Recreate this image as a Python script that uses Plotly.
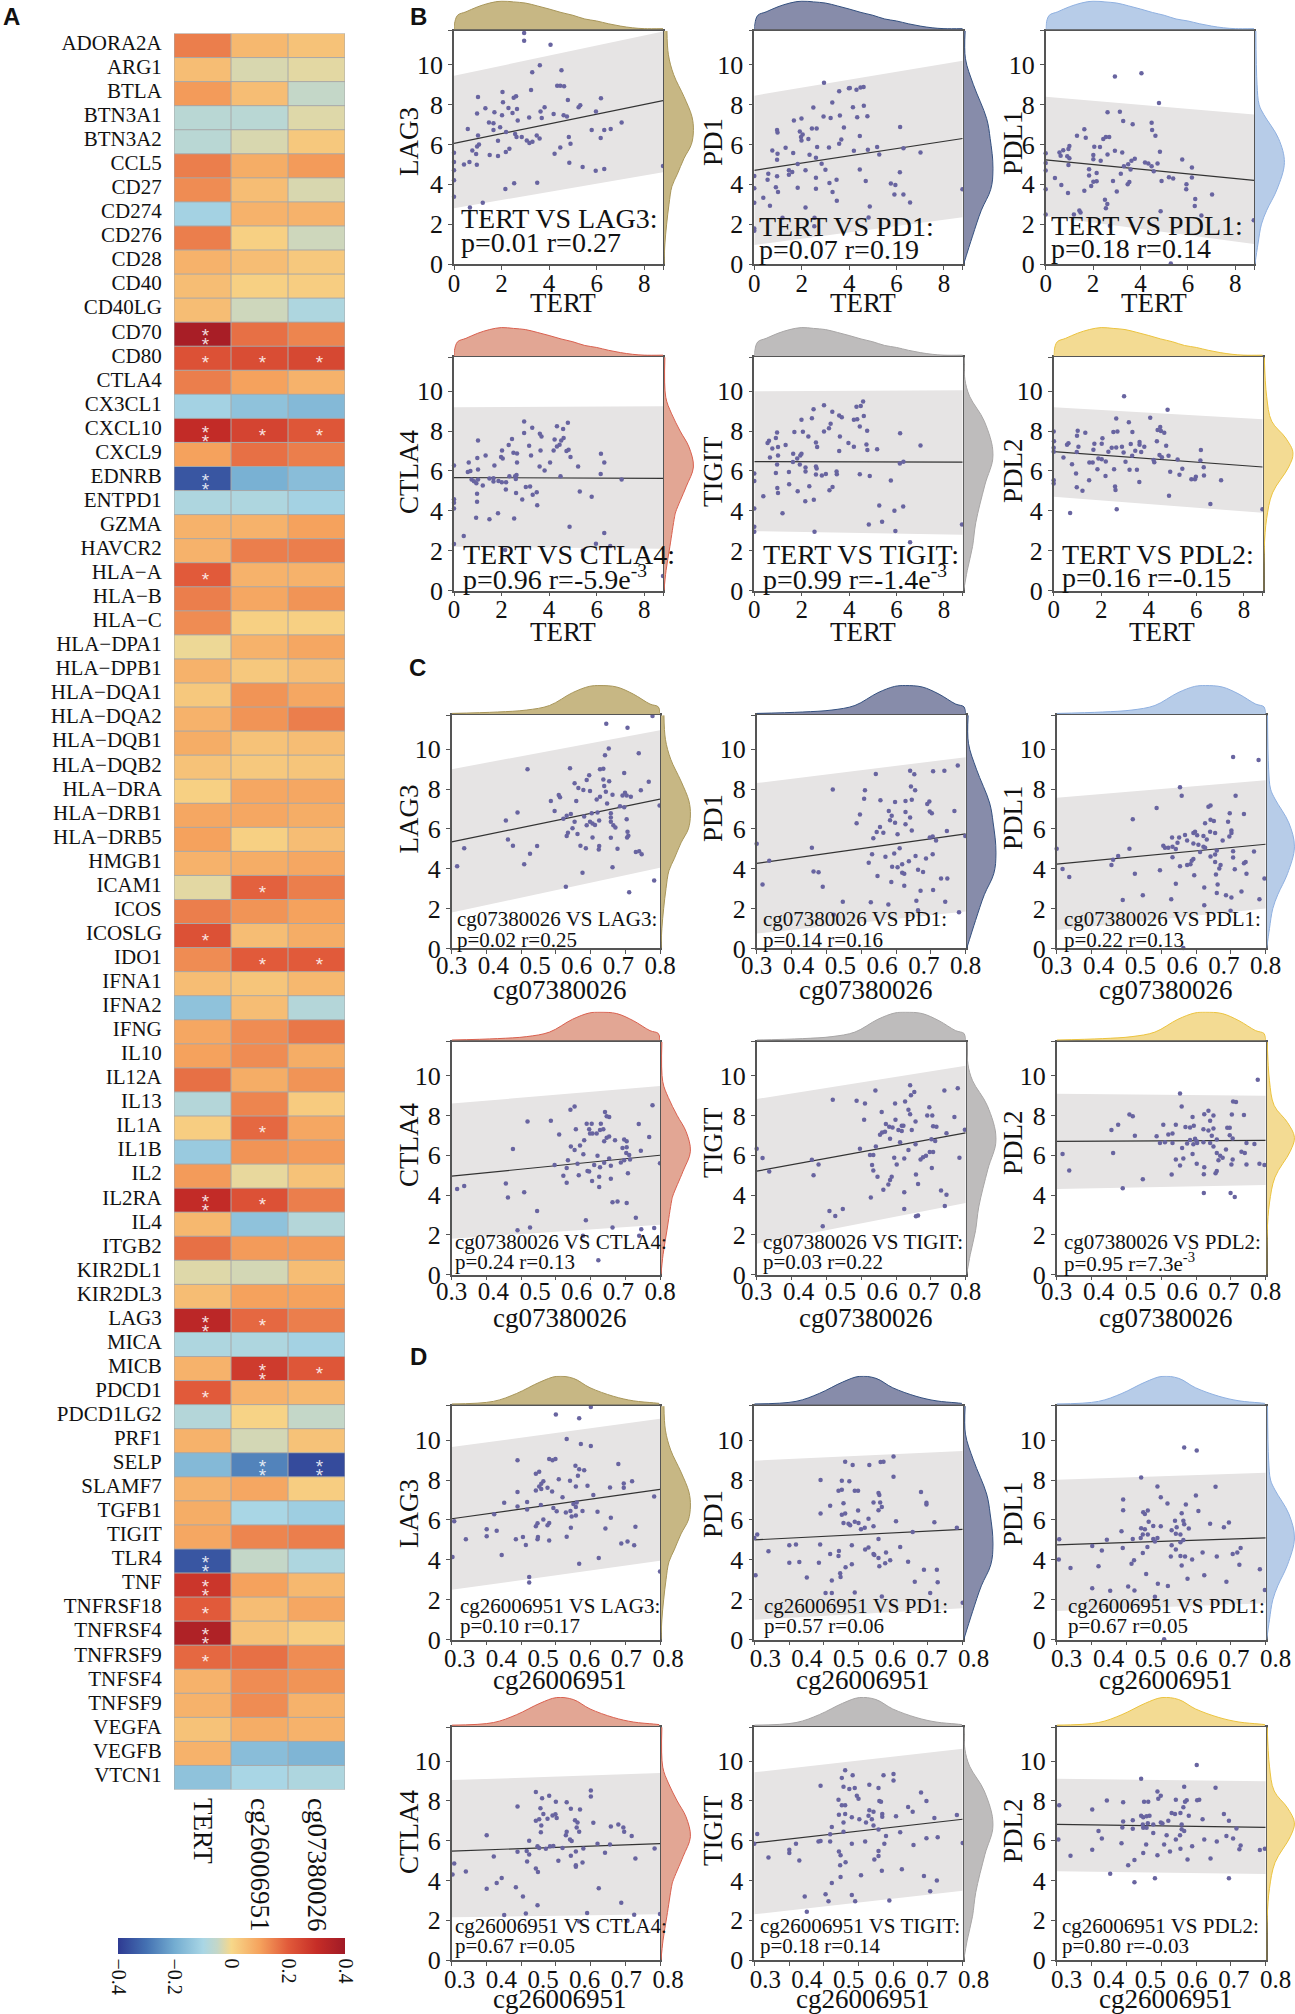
import plotly.graph_objects as go

W, H = 1295, 2014

GENES = ["ADORA2A","ARG1","BTLA","BTN3A1","BTN3A2","CCL5","CD27","CD274","CD276","CD28","CD40","CD40LG","CD70","CD80","CTLA4","CX3CL1","CXCL10","CXCL9","EDNRB","ENTPD1","GZMA","HAVCR2","HLA−A","HLA−B","HLA−C","HLA−DPA1","HLA−DPB1","HLA−DQA1","HLA−DQA2","HLA−DQB1","HLA−DQB2","HLA−DRA","HLA−DRB1","HLA−DRB5","HMGB1","ICAM1","ICOS","ICOSLG","IDO1","IFNA1","IFNA2","IFNG","IL10","IL12A","IL13","IL1A","IL1B","IL2","IL2RA","IL4","ITGB2","KIR2DL1","KIR2DL3","LAG3","MICA","MICB","PDCD1","PDCD1LG2","PRF1","SELP","SLAMF7","TGFB1","TIGIT","TLR4","TNF","TNFRSF18","TNFRSF4","TNFRSF9","TNFSF4","TNFSF9","VEGFA","VEGFB","VTCN1"]
COLUMNS = ["TERT", "cg26006951", "cg07380026"]
TERT_R = [.15,.05,.11,-.07,-.07,.15,.13,-.11,.15,.07,.05,.05,.38,.22,.15,-.11,.31,.1,-.35,-.09,.07,.07,.2,.15,.13,-.01,.07,.03,.07,.08,.04,.015,.09,.1,.07,-.02,.15,.22,.13,.05,-.15,.09,.1,.17,-.08,.02,-.13,.11,.31,.06,.17,-.025,.05,.33,-.09,.07,.2,-.08,.07,-.17,.07,.08,.09,-.35,.28,.2,.36,.18,.07,.07,.04,.07,-.15]
CG26_R = [.06,-.03,.05,-.07,-.03,.08,.05,.07,.015,.05,.015,-.04,.17,.23,.1,-.15,.25,.17,-.19,-.09,.07,.15,.07,.09,.015,.07,.03,.12,.12,.04,.03,.09,.09,.015,.08,.19,.12,.05,.2,.035,.05,.13,.13,.08,.14,.18,.12,-.015,.22,-.15,.11,-.035,.1,.18,-.09,.27,.07,.01,-.035,-.27,.09,-.1,.14,-.05,.1,.05,.04,.17,.13,.13,.08,-.16,-.1]
CG07_R = [.04,-.02,-.05,-.025,.03,.11,-.03,.07,-.04,.03,.02,-.09,.14,.24,.07,-.17,.21,.15,-.16,-.11,.1,.15,.07,.12,.015,.09,.05,.09,.15,.05,.035,.09,.08,.05,.09,.15,.1,.08,.2,.06,-.08,.16,.08,.12,.025,.09,.11,.04,.15,-.08,.11,.05,.1,.15,-.11,.21,.06,-.05,.04,-.37,.02,-.12,.15,-.09,.06,.09,.02,.13,.12,.07,.07,-.18,-.09]
ONE_STAR = [("CD80",0),("CD80",1),("CD80",2),("CXCL10",1),("CXCL10",2),("HLA−A",0),("ICAM1",1),("ICOSLG",0),("IDO1",1),("IDO1",2),("IL1A",1),("IL2RA",1),("LAG3",1),("MICB",2),("PDCD1",0),("TNFRSF18",0),("TNFRSF9",0)]
TWO_STARS = [("CD70",0),("CXCL10",0),("EDNRB",0),("IL2RA",0),("LAG3",0),("MICB",1),("SELP",1),("SELP",2),("TLR4",0),("TNF",0),("TNFRSF4",0)]
COLORSCALE = [[0,"#2E3A92"],[.125,"#4471B2"],[.25,"#74ADD1"],[.375,"#A9D6E5"],[.4375,"#C4D7C8"],[.5,"#F7D88A"],[.625,"#F5A25D"],[.75,"#E15A3A"],[.875,"#C62D27"],[1,"#A01A26"]]

PANEL_GENES = ["LAG3", "PD1", "PDL1", "CTLA4", "TIGIT", "PDL2"]
FILLS = ["#C7B784", "#878CAA", "#B7CCE8", "#E2A694", "#BEBCBC", "#F3DB93"]
LINES = ["#A8965A", "#34507F", "#8FB0E0", "#D9604F", "#A8A6A6", "#EBC33F"]

B_STATS = [("TERT VS LAG3:","p=0.01 r=0.27"),("TERT VS PD1:","p=0.07 r=0.19"),("TERT VS PDL1:","p=0.18 r=0.14"),("TERT VS CTLA4:","p=0.96 r=-5.9e<sup>-3</sup>"),("TERT VS TIGIT:","p=0.99 r=-1.4e<sup>-3</sup>"),("TERT VS PDL2:","p=0.16 r=-0.15")]
C_STATS = [("cg07380026 VS LAG3:","p=0.02 r=0.25"),("cg07380026 VS PD1:","p=0.14 r=0.16"),("cg07380026 VS PDL1:","p=0.22 r=0.13"),("cg07380026 VS CTLA4:","p=0.24 r=0.13"),("cg07380026 VS TIGIT:","p=0.03 r=0.22"),("cg07380026 VS PDL2:","p=0.95 r=7.3e<sup>-3</sup>")]
D_STATS = [("cg26006951 VS LAG3:","p=0.10 r=0.17"),("cg26006951 VS PD1:","p=0.57 r=0.06"),("cg26006951 VS PDL1:","p=0.67 r=0.05"),("cg26006951 VS CTLA4:","p=0.67 r=0.05"),("cg26006951 VS TIGIT:","p=0.18 r=0.14"),("cg26006951 VS PDL2:","p=0.80 r=-0.03")]

# fit line and band, (value at left edge, value at right edge)
B_FIT = [(6.05,8.2),(4.7,6.3),(5.23,4.2),(5.67,5.63),(6.47,6.44),(6.97,6.2)]
B_HI = [(9.45,11.67),(8.45,10.2),(8.4,7.5),(9.2,9.25),(10,10.05),(9.2,8.6)]
B_LO = [(2.8,4.6),(.95,2.35),(2.4,1),(2.2,2.1),(2.98,2.8),(4.7,3.9)]
C_FIT = [(5.35,7.5),(4.27,5.75),(4.23,5.23),(4.95,6),(5.2,7.13),(6.7,6.75)]
C_HI = [(9,10.95),(8.3,9.6),(7.57,8.44),(8.6,9.48),(8.83,10.5),(9.1,9)]
C_LO = [(1.8,4.05),(.75,1.85),(.93,2),(1.8,2.5),(1.55,3.6),(4.3,4.5)]
D_FIT = [(6.06,7.53),(5,5.53),(4.75,5.1),(5.48,5.85),(5.89,7.08),(6.82,6.67)]
D_HI = [(9.65,11.07),(8.97,9.46),(8.02,8.37),(9.05,9.4),(9.44,10.62),(9.12,8.99)]
D_LO = [(2.5,3.96),(1,1.57),(1.44,1.83),(2.15,2.3),(2.3,3.48),(4.47,4.32)]

# marginal densities, scaled to a peak of 1
TOP_TERT = [(0,0),(.02,.2),(.15,.5),(.5,.62),(1,.8),(1.5,.93),(2,1),(2.5,.97),(3,.93),(3.5,.83),(4,.72),(4.5,.6),(5,.5),(5.5,.37),(6,.3),(6.5,.2),(7,.12),(7.5,.06),(8,.03),(8.79,.03)]
TOP_CG07 = [(.3,.02),(.41,.07),(.48,.14),(.535,.3),(.59,.75),(.63,.97),(.656,1),(.696,.95),(.736,.7),(.776,.35),(.796,.25),(.8,.02)]
TOP_CG26 = [(.3,.03),(.4,.12),(.456,.4),(.512,.8),(.552,1),(.592,.93),(.632,.6),(.688,.3),(.736,.14),(.784,.07),(.798,.05)]
RIGHT_LAG3 = [(0,0),(1,.03),(2,.09),(3,.17),(3.9,.27),(4.5,.45),(5.3,.68),(6,.93),(6.7,1),(7.4,.95),(8.4,.68),(9.5,.33),(10.5,.15),(11.7,.1)]
RIGHT_PD1 = [(0,0),(1.4,.3),(2.7,.6),(3.75,.92),(4.8,1),(6.3,.9),(7.3,.78),(9,.33),(10.3,.06),(11.7,.05)]
RIGHT_PDL1 = [(0,0),(1,.1),(2,.22),(2.7,.4),(3.75,.75),(5.1,1),(6.3,.8),(7.5,.3),(8,.14),(9,.07),(11.7,.03)]
RIGHT_CTLA4 = [(0,0),(1,.07),(2.2,.2),(3.7,.36),(3.95,.4),(5.2,.75),(6.2,1),(7.2,.85),(8,.55),(8.9,.25),(9.7,.06),(11.7,.03)]
RIGHT_TIGIT = [(0,0),(1,.12),(2.2,.3),(3.4,.41),(5.3,.72),(6.8,1),(8.5,.7),(9.75,.2),(10.6,.04),(11.7,.02)]
RIGHT_PDL2 = [(0,0),(2.2,.02),(3.6,.1),(4.9,.3),(6.2,.85),(6.9,1),(7.65,.75),(8.5,.27),(9.75,.1),(11.7,.02)]

B_LAG3 = [(2.95,11.6),(2.95,11.2),(4.06,11),(3.61,9.97),(3.29,9.62),(4.52,9.73),(2.04,8.63),(4.34,8.95),(4.47,8.95),(4.63,8.92),(3.24,8.73),(1.01,8.38),(2.51,8.35),(2.61,8.42),(2.06,8.12),(4.79,8.23),(6.18,8.32),(3.81,7.87),(1.32,7.82),(2.29,7.83),(2.65,7.78),(1.7,7.62),(2.46,7.58),(.97,7.55),(2.02,7.47),(4.19,7.53),(3.64,7.65),(5.24,7.87),(5.31,7.97),(5.97,7.65),(4.61,7.47),(4.75,7.4),(3.16,7.35),(3.69,7.33),(2.68,7.2),(1.47,7.1),(1.66,7.07),(1.94,6.87),(1.66,6.73),(2.19,6.63),(.58,6.77),(1.01,6.45),(2.57,6.53),(2.63,6.37),(2.85,6.37),(3.06,6.2),(3.17,6.07),(3.3,6.13),(3.48,6.45),(3.6,6.3),(4.83,6.37),(5.79,6.73),(6.32,6.73),(6.59,6.78),(7.05,7.1),(6.17,6.33),(1.85,6.18),(1.05,6),(.97,5.9),(.77,5.7),(.93,5.52),(2.33,5.78),(2.18,5.62),(1.5,5.47),(1.85,5.42),(4.47,5.85),(4.9,6.03),(4.23,5.53),(0,5.58),(0,5.12),(.65,5.12),(.42,5),(.96,4.98),(4.85,5.08),(5.41,4.87),(5.96,4.68),(6.32,4.77),(0,4.7),(0,4.2),(0,3.37),(2.16,3.77),(2.53,4.05),(3.5,4.08),(1.21,3.08),(.67,2.83),(8.79,4.92)]
B_PD1 = [(2.94,9.1),(3.58,8.67),(3.99,8.82),(3.29,8.1),(2.49,7.85),(2.92,7.4),(3.22,7.33),(3.61,7.45),(1.67,7.2),(1.99,7.3),(2.43,6.8),(2.63,6.8),(3.78,6.85),(.96,6.73),(.98,6.6),(1.92,6.65),(2.04,6.5),(1.97,6.37),(1.99,6.2),(2.28,6.27),(3.67,6.25),(3.58,6.03),(1.32,5.83),(2.65,5.87),(3.15,5.85),(.76,5.7),(.98,5.53),(1.64,5.57),(2.33,5.48),(2.6,5.33),(.96,5.23),(1.83,5.02),(2.84,5.03),(3,4.73),(2.16,4.7),(1.46,4.7),(1.6,4.62),(1.46,4.48),(.59,4.53),(0,4.42),(.96,4.4),(2.6,4.33),(3.47,4.23),(.56,4.23),(3.17,4.07),(0,3.8),(.91,3.85),(1,3.62),(1.83,3.83),(2.6,3.78),(3.3,3.62),(3.48,3.18),(.38,3.32),(0,3.08),(.66,2.93),(2.16,2.83),(2.54,2.32),(1.19,2.32),(2.53,1.9),(0,1.78),(0,1.67),(4.03,8.84),(4.31,8.74),(4.48,8.86),(4.61,8.88),(4.16,7.87),(4.34,7.37),(4.62,7.94),(4.77,7.41),(4.45,6.42),(6.15,6.88),(4.2,5.68),(4.79,5.73),(5.18,5.87),(5.27,5.49),(6.29,5.81),(7.01,5.6),(4.45,4.74),(6.14,4.61),(4.7,4.17),(5.76,4.04),(5.95,3.96),(5.91,3.49),(6.29,3.49),(6.57,3.09),(4.87,2.88),(4.82,2.34),(8.78,3.75)]
B_PDL1 = [(2.92,9.41),(4.04,9.58),(4.78,8.08),(2.61,7.62),(3.13,7.64),(3.27,7.18),(3.67,7.01),(4.47,7.09),(4.49,6.72),(4.63,6.44),(1.63,6.76),(1.32,6.44),(1.69,6.34),(2.43,6.27),(2.54,6.38),(2.68,6.38),(2.05,5.89),(2.29,5.87),(1,5.92),(.96,5.77),(.74,5.71),(.58,5.6),(.63,5.43),(0,5.56),(.91,5.41),(1,5.31),(.96,4.97),(2.01,5.47),(2.01,5.26),(2.32,5.18),(2.61,5.49),(2.92,5.68),(3.23,5.6),(3.62,5.18),(3.76,5.28),(3.3,4.91),(3.48,5.01),(3.58,4.74),(4.19,5.09),(4.33,5.05),(4.47,4.91),(4.56,4.65),(4.72,5.05),(4.82,5.64),(5.76,5.24),(6.17,4.84),(4.89,4.17),(5.2,4.36),(5.38,4.29),(6.17,4.34),(5.94,4),(5.93,3.75),(3.17,4.53),(1.83,4.76),(1.83,4.44),(2.15,4.57),(2.15,4.15),(2.01,4.13),(1.92,3.92),(.39,4.32),(.66,3.96),(0,3.75),(.94,3.56),(1.63,3.68),(2.84,4.17),(3,3.64),(3.53,4.11),(3.46,4),(2.5,3.22),(2.6,3.01),(2.54,2.8),(6.31,3.26),(6.29,2.91),(7.02,3.49),(1.42,2.69),(1.47,2.59),(1.19,2.48),(0,2.48),(4.85,2.65),(6.57,2.44),(2.71,1.92),(8.78,2.19),(5.28,.02),(0,5.07),(0,4.69)]
B_CTLA4 = [(2.95,8.48),(3.29,8.17),(4.33,8.25),(4.79,8.42),(4.59,8.1),(2.95,7.9),(3.61,7.87),(3.68,7.73),(1.01,7.53),(2.44,7.6),(4.23,7.58),(4.61,7.65),(4.51,7.53),(2.3,7.3),(3.16,7.27),(4.44,7.32),(4.33,7.23),(2.02,7.03),(3.64,7.03),(4.19,7.03),(4.82,7.07),(4.73,7),(2.5,6.92),(2.65,6.88),(1.33,6.77),(3.24,6.78),(6.18,6.87),(.98,6.65),(1.98,6.7),(2.05,6.62),(4.9,6.7),(.62,6.43),(2.65,6.42),(4.04,6.43),(6.32,6.42),(1.7,6.28),(0,6.28),(3.6,6.23),(5.22,6.22),(1.01,6.07),(3.81,6.02),(.58,5.95),(.69,6),(6.17,5.85),(4.48,5.73),(2.33,5.73),(2.63,5.8),(2.57,5.73),(2.6,5.6),(7.05,5.57),(.74,5.57),(1.01,5.57),(1.49,5.62),(1.66,5.63),(1.66,5.47),(1.87,5.5),(2.01,5.43),(2.19,5.43),(.84,5.48),(.94,5.38),(1.21,5.27),(2.18,5.07),(3.02,5.2),(3.2,5.22),(2.61,4.9),(3.48,4.93),(3.31,4.8),(5.29,4.97),(5.79,4.7),(.97,4.85),(.97,4.45),(2.87,4.57),(3.5,4.28),(0,4.58),(0,4.4),(0,4.12),(.93,3.65),(1.49,3.58),(1.85,3.88),(2.53,3.62),(4.86,3.2),(6.32,2.88),(.41,2.73),(5.97,2.35),(6.57,2.23),(0,2.33),(5.41,2),(2.15,2.03),(8.79,.73)]
B_TIGIT = [(2.94,9.3),(2.5,9.1),(3.29,8.97),(3.58,8.78),(3.69,8.7),(1.99,8.57),(2.43,8.65),(3.22,8.37),(3.15,8.15),(2.94,7.98),(.96,7.93),(1.69,7.95),(2.05,7.97),(2.28,7.73),(3.61,7.73),(.91,7.65),(.62,7.52),(.56,7.4),(2.6,7.43),(1.32,7.3),(1,7.2),(.76,7.13),(2.65,7.2),(3.58,7),(3.97,7.4),(1.99,6.87),(1.64,6.87),(1.94,6.78),(.66,6.68),(1,6.78),(1.81,6.62),(1.63,6.45),(.96,6.33),(1.92,6.33),(2.6,6.23),(2.16,6.17),(2.16,5.97),(2.63,6.12),(3.47,5.97),(1.46,5.95),(.91,5.9),(0,5.87),(2.6,5.82),(3.02,5.85),(2.85,5.77),(3.48,5.83),(0,5.5),(1.47,5.33),(.97,5.15),(2.32,5.23),(3.3,5.2),(3.17,5.03),(1.83,4.98),(1,4.9),(.38,4.73),(2.15,4.48),(2.51,4.55),(0,4.12),(1.19,3.88),(0,3.2),(0,2.95),(2.54,2.95),(4.59,9.49),(4.31,9.22),(4.49,9.26),(4.62,8.76),(4.2,8.57),(4.34,8.59),(4.45,8.23),(4.76,8.02),(7.01,7.28),(6.15,7.89),(4.73,7.33),(4.77,7.05),(4.2,7.22),(5.18,7.09),(6.29,6.46),(6.14,6.38),(4.45,5.83),(4.87,5.75),(5.76,5.52),(5.27,4.27),(6.28,4.21),(5.91,4),(5.39,3.45),(4.83,3.31),(5.95,2.99),(6.57,2.42),(8.76,3.31)]
B_PDL2 = [(2.96,9.75),(4.79,9.07),(4.06,8.67),(2.63,8.63),(3.16,8.44),(0,7.98),(1.01,8.02),(.98,7.77),(1.33,7.92),(2.51,7.96),(2.68,7.98),(3.31,7.96),(4.37,8.06),(4.48,8.21),(4.51,8),(4.65,7.92),(2.05,7.64),(.01,7.49),(4.34,7.49),(.62,7.39),(.56,7.31),(1.71,7.37),(2.02,7.37),(1.67,7.07),(3.24,7.35),(3.61,7.45),(3.61,7.31),(0,7.16),(0,6.97),(1.04,7.22),(.97,6.95),(2.3,6.97),(2.44,7.16),(2.63,7.18),(2.87,7.22),(3.43,7.01),(3.68,6.95),(3.81,7.22),(4.73,7.26),(2.94,6.93),(.41,6.67),(3.3,6.76),(1.88,6.63),(2.02,6.59),(2.19,6.48),(1.5,6.42),(1.64,6.42),(4.45,6.8),(4.55,6.69),(4.83,6.76),(4.2,6.55),(4.23,6.44),(5.21,6.57),(6.17,6.53),(6.19,7.05),(3.02,6.46),(.77,6.34),(6.31,6.19),(1.84,6.08),(2.54,6.08),(3.19,6.06),(3.5,6.06),(5.41,6.11),(.94,5.87),(2.18,5.75),(4.9,5.96),(5.29,5.81),(6.32,5.77),(0,5.54),(0,5.37),(1.49,5.54),(3.6,5.45),(5.79,5.58),(5.94,5.58),(5.98,5.71),(7.04,5.54),(.97,5.18),(2.58,5.22),(2.6,5.05),(1.21,5.01),(4.85,4.76),(.69,3.89),(2.65,4.08),(6.59,4.34),(8.78,4.08)]

C_LAG3 = [(.782,11.67),(.671,11.28),(.722,11.08),(.677,10.04),(.749,9.8),(.668,9.7),(.584,9.05),(.482,9),(.656,9),(.664,9.02),(.714,8.81),(.63,8.7),(.624,8.46),(.664,8.48),(.678,8.39),(.773,8.37),(.595,8.29),(.666,8.16),(.604,8.05),(.616,7.96),(.632,7.9),(.67,7.87),(.754,7.94),(.557,7.7),(.56,7.59),(.686,7.72),(.71,7.68),(.716,7.81),(.72,7.68),(.73,7.61),(.656,7.61),(.648,7.48),(.538,7.4),(.599,7.4),(.673,7.27),(.714,7.09),(.704,7.14),(.547,6.9),(.458,6.83),(.636,6.79),(.65,6.83),(.682,6.79),(.586,6.75),(.576,6.66),(.568,6.51),(.618,6.62),(.682,6.57),(.654,6.42),(.43,6.42),(.72,6.49),(.595,6.36),(.682,6.36),(.624,6.18),(.632,6.36),(.638,6.27),(.688,6.18),(.644,6.2),(.59,6.03),(.693,6.07),(.298,5.92),(.722,5.86),(.579,5.81),(.576,5.64),(.602,5.75),(.638,5.57),(.682,5.55),(.721,5.57),(.724,5.66),(.435,5.47),(.447,5.16),(.505,5.14),(.609,5.16),(.622,5.03),(.654,5.14),(.653,4.97),(.698,5.01),(.33,5.03),(.488,4.75),(.742,4.84),(.75,4.88),(.756,4.73),(.474,4.23),(.313,4.12),(.686,4.08),(.614,3.8),(.574,3.1),(.786,3.41),(.726,2.82),(.799,7.18)]
C_PD1 = [(.482,7.98),(.3,5.25),(.432,5.05),(.33,4.4),(.436,3.86),(.448,3.82),(.458,3.1),(.314,3.21),(.506,2.34),(.484,1.69),(.781,9.18),(.722,8.89),(.749,8.92),(.667,8.92),(.677,8.74),(.585,8.76),(.669,8.13),(.679,7.94),(.559,7.94),(.557,7.51),(.596,7.44),(.631,7.35),(.656,7.4),(.671,7.46),(.713,7.38),(.708,7.25),(.616,6.9),(.656,6.85),(.714,6.88),(.719,6.79),(.773,6.9),(.547,6.72),(.623,6.66),(.667,6.57),(.619,6.44),(.631,6.31),(.656,6.23),(.539,6.29),(.595,6.1),(.587,5.84),(.603,5.81),(.671,5.92),(.755,5.9),(.637,5.73),(.714,5.57),(.721,5.62),(.579,5.53),(.729,5.42),(.799,5.64),(.642,5.03),(.629,4.77),(.721,4.73),(.68,4.64),(.576,4.73),(.608,4.6),(.705,4.51),(.568,4.3),(.664,4.38),(.624,4.1),(.637,4.08),(.648,4.23),(.648,3.8),(.686,3.95),(.698,3.84),(.653,3.75),(.589,3.64),(.622,3.34),(.741,3.51),(.756,3.51),(.653,3.15),(.692,2.89),(.722,2.93),(.573,2.32),(.615,2.21),(.682,2.39),(.751,2.34),(.784,1.82),(.686,1.91)]
C_PDL1 = [(.722,9.61),(.783,9.46),(.595,8.09),(.599,7.66),(.539,7.05),(.728,7.66),(.482,6.49),(.663,7.11),(.668,7.18),(.714,6.79),(.748,6.75),(.668,6.46),(.676,6.4),(.655,6.29),(.71,6.36),(.718,5.92),(.718,5.79),(.607,5.7),(.627,5.79),(.631,5.86),(.636,5.68),(.576,5.57),(.593,5.57),(.651,5.64),(.667,5.86),(.679,5.79),(.713,5.62),(.697,5.42),(.612,5.42),(.659,5.47),(.589,5.31),(.555,5.16),(.559,5.05),(.567,5.05),(.577,5.1),(.585,4.99),(.627,5.27),(.639,5.21),(.651,5.1),(.655,5.05),(.474,5.01),(.447,4.64),(.643,4.84),(.683,4.92),(.722,4.88),(.772,4.86),(.679,4.71),(.668,4.62),(.577,4.58),(.722,4.56),(.627,4.49),(.435,4.45),(.431,4.19),(.623,4.4),(.62,4.23),(.612,4.19),(.595,4.12),(.679,4.34),(.752,4.34),(.748,4.27),(.692,4.19),(.689,4.01),(.726,3.97),(.3,5.01),(.314,3.99),(.33,3.58),(.487,3.75),(.547,3.93),(.629,3.67),(.681,3.71),(.754,3.75),(.797,3.51),(.585,3.25),(.685,3.21),(.653,3.06),(.742,2.86),(.683,2.78),(.705,2.67),(.718,2.56),(.506,2.67),(.458,2.43),(.574,2.47),(.785,2.47),(.653,2.17),(.716,1.89),(.603,.02)]
C_CTLA4 = [(.782,8.52),(.595,8.46),(.585,8.29),(.668,8.18),(.672,7.96),(.678,7.92),(.538,7.74),(.482,7.7),(.624,7.59),(.636,7.59),(.658,7.59),(.749,7.57),(.598,7.31),(.63,7.31),(.656,7.27),(.664,7.31),(.558,7.05),(.632,7.09),(.638,7.09),(.648,7.09),(.678,6.94),(.672,6.88),(.666,6.7),(.774,6.92),(.618,6.75),(.692,6.75),(.714,6.79),(.72,6.7),(.586,6.44),(.608,6.49),(.447,6.31),(.71,6.36),(.72,6.4),(.595,6.27),(.754,6.23),(.616,6.05),(.65,5.97),(.719,6.12),(.726,6.01),(.678,5.84),(.706,5.64),(.714,5.75),(.728,5.79),(.579,5.75),(.547,5.51),(.602,5.57),(.642,5.51),(.666,5.62),(.682,5.47),(.576,5.36),(.656,5.4),(.8,5.6),(.626,5.21),(.63,5.18),(.568,4.97),(.605,4.99),(.654,4.92),(.682,4.82),(.723,5.1),(.298,4.86),(.637,4.71),(.576,4.62),(.43,4.58),(.654,4.4),(.313,4.3),(.33,4.45),(.474,4.14),(.435,3.88),(.686,3.64),(.698,3.67),(.72,3.6),(.505,3.19),(.742,2.86),(.622,2.73),(.488,2.36),(.458,2.23),(.686,2.36),(.755,2.28),(.786,2.34),(.615,1.95),(.75,1.95),(.652,.72)]
C_TIGIT = [(.482,8.79),(.3,6.33),(.314,5.86),(.33,5.18),(.432,5.77),(.448,5.53),(.436,4.99),(.474,3.19),(.488,2.95),(.506,3.3),(.458,2.43),(.667,9.52),(.584,9.26),(.749,9.26),(.781,9.37),(.539,8.74),(.559,8.61),(.677,9.18),(.669,9.02),(.631,8.61),(.655,8.7),(.663,8.29),(.713,8.42),(.557,7.79),(.599,8.18),(.667,8.07),(.708,8),(.72,8),(.632,7.79),(.68,7.7),(.773,7.92),(.609,7.57),(.617,7.44),(.647,7.48),(.651,7.48),(.671,7.27),(.722,7.46),(.73,7.44),(.639,7.27),(.625,7.4),(.6,7.14),(.607,7.18),(.595,7.03),(.798,7.29),(.647,7.22),(.754,7.11),(.643,6.66),(.619,6.83),(.585,6.44),(.68,6.55),(.663,6.27),(.547,6.33),(.718,6.81),(.727,6.72),(.714,6.16),(.722,6.16),(.571,6.01),(.579,6.01),(.705,5.97),(.698,5.9),(.692,5.79),(.629,5.88),(.653,5.84),(.785,5.88),(.576,5.51),(.635,5.53),(.579,5.23),(.719,5.36),(.681,5.03),(.589,4.92),(.623,4.92),(.619,4.75),(.615,4.53),(.603,4.27),(.686,4.56),(.653,4.14),(.741,4.23),(.754,4.01),(.573,3.88),(.653,3.3),(.75,3.45),(.686,2.97),(.681,2.93)]
C_PDL2 = [(.781,9.8),(.595,9.11),(.722,8.7),(.729,8.68),(.599,8.46),(.663,8.24),(.474,8.05),(.482,7.96),(.653,8.07),(.675,8),(.719,8.05),(.748,8.03),(.625,7.92),(.667,7.74),(.447,7.53),(.555,7.53),(.298,7.81),(.585,7.53),(.608,7.42),(.619,7.4),(.628,7.48),(.431,7.27),(.577,7.09),(.651,7.31),(.663,7.25),(.675,7.35),(.708,7.38),(.714,7.38),(.487,6.98),(.539,6.96),(.567,7.05),(.671,6.98),(.714,7.01),(.721,6.85),(.619,6.77),(.631,6.83),(.635,6.7),(.651,6.66),(.683,6.79),(.547,6.62),(.559,6.66),(.577,6.62),(.612,6.59),(.627,6.55),(.636,6.62),(.667,6.62),(.754,6.62),(.773,6.57),(.6,6.36),(.675,6.44),(.625,6.07),(.683,6.12),(.691,5.97),(.705,6.29),(.314,6.07),(.435,6.12),(.742,6.18),(.75,6.12),(.585,5.79),(.603,5.84),(.697,5.88),(.721,5.79),(.595,5.49),(.635,5.57),(.687,5.75),(.653,5.4),(.718,5.53),(.754,5.53),(.785,5.57),(.797,5.51),(.33,5.23),(.683,5.21),(.68,5.1),(.575,5.03),(.652,5.05),(.506,4.79),(.458,4.34),(.652,4.1),(.716,4.1),(.726,3.9)]

D_LAG3 = [(.634,11.66),(.55,11.29),(.606,11.1),(.576,10.06),(.61,9.81),(.634,9.7),(.534,9.05),(.542,8.99),(.549,9.05),(.458,8.99),(.7,8.8),(.597,8.71),(.502,8.32),(.51,8.41),(.606,8.54),(.618,8.49),(.603,8.22),(.557,8.04),(.584,7.96),(.52,7.94),(.515,7.81),(.733,7.94),(.713,7.83),(.51,7.68),(.515,7.55),(.626,7.72),(.598,7.68),(.502,7.48),(.53,7.61),(.68,7.63),(.713,7.61),(.541,7.42),(.458,7.4),(.64,7.25),(.566,7.14),(.786,7.18),(.426,6.86),(.481,6.9),(.6,6.88),(.592,6.8),(.514,6.75),(.458,6.67),(.544,6.6),(.598,6.65),(.481,6.52),(.552,6.43),(.574,6.37),(.585,6.45),(.614,6.45),(.65,6.41),(.298,6.45),(.402,6.28),(.588,6.17),(.598,6.22),(.682,6.11),(.52,6.02),(.306,5.94),(.506,5.83),(.534,5.85),(.502,5.68),(.53,5.74),(.384,5.53),(.408,5.46),(.586,5.61),(.669,5.57),(.741,5.66),(.384,5.18),(.576,5.16),(.334,5.03),(.454,5.03),(.471,5.14),(.507,5.14),(.506,5.03),(.534,4.97),(.478,4.75),(.707,4.82),(.722,4.92),(.738,4.73),(.42,4.24),(.302,4.15),(.653,4.09),(.606,3.81),(.486,3.14),(.486,2.86),(.8,3.42)]
D_PD1 = [(.518,8.92),(.459,8),(.51,7.96),(.528,7.94),(.502,7.46),(.51,7.51),(.482,6.71),(.514,6.84),(.459,6.32),(.51,6.26),(.518,6.32),(.514,5.85),(.526,5.81),(.3,5.1),(.307,5.27),(.384,4.73),(.4,4.77),(.458,4.77),(.503,4.45),(.482,4.3),(.502,4.19),(.334,4.43),(.384,3.85),(.408,3.89),(.455,3.85),(.303,3.23),(.426,3.12),(.519,3.63),(.506,3.33),(.507,3.14),(.486,2.97),(.471,2.34),(.486,2.34),(.634,9.18),(.576,8.75),(.603,8.9),(.61,8.92),(.634,8.17),(.536,8.75),(.7,7.4),(.541,7.46),(.549,7.46),(.598,7.35),(.6,7.25),(.713,6.86),(.713,6.77),(.586,6.88),(.602,6.88),(.606,6.65),(.598,6.49),(.549,6.47),(.574,6.06),(.64,5.94),(.732,5.89),(.541,5.91),(.53,5.74),(.55,5.85),(.556,5.53),(.565,5.61),(.586,5.68),(.786,5.61),(.68,5.4),(.598,5.05),(.534,4.73),(.65,4.65),(.566,4.52),(.574,4.62),(.586,4.3),(.616,4.37),(.588,4.24),(.598,4.09),(.626,3.98),(.614,3.83),(.669,3.91),(.6,3.68),(.534,3.78),(.707,3.51),(.738,3.51),(.685,2.9),(.74,2.88),(.722,2.34),(.541,2.37),(.606,2.17),(.8,1.85)]
D_PDL1 = [(.605,9.63),(.635,9.48),(.502,8.13),(.541,7.68),(.549,7.14),(.68,7.66),(.459,7.03),(.565,6.82),(.633,7.23),(.609,6.77),(.459,6.49),(.639,6.45),(.599,6.34),(.507,6.39),(.518,6.47),(.511,6.3),(.583,5.96),(.52,5.91),(.603,5.96),(.605,5.78),(.667,5.81),(.712,5.87),(.531,5.7),(.549,5.68),(.7,5.63),(.587,5.63),(.616,5.57),(.502,5.59),(.511,5.53),(.455,5.44),(.575,5.48),(.585,5.31),(.596,5.27),(.506,5.27),(.501,5.1),(.518,5.27),(.541,5.1),(.531,5.05),(.306,5.03),(.42,5.01),(.482,5.05),(.535,4.92),(.603,4.99),(.596,4.88),(.385,4.69),(.458,4.6),(.517,4.65),(.575,4.73),(.585,4.52),(.74,4.6),(.408,4.47),(.506,4.34),(.649,4.37),(.721,4.3),(.732,4.37),(.298,4.11),(.305,4.02),(.573,4.17),(.596,4.19),(.607,4.17),(.683,4.17),(.485,3.98),(.479,3.81),(.624,4.02),(.599,3.72),(.737,3.76),(.333,3.59),(.4,3.68),(.786,3.53),(.514,3.29),(.653,3.23),(.613,3.05),(.706,2.9),(.542,2.8),(.566,2.69),(.385,2.58),(.471,2.67),(.428,2.45),(.486,2.47),(.535,2.15),(.798,2.49),(.557,.02)]
D_CTLA4 = [(.634,8.52),(.634,8.22),(.502,8.45),(.534,8.26),(.517,8.13),(.55,7.96),(.576,7.94),(.458,7.72),(.513,7.63),(.586,7.61),(.608,7.57),(.52,7.35),(.542,7.27),(.549,7.33),(.552,7.14),(.53,7.1),(.51,7.08),(.502,7.01),(.596,7.03),(.64,6.9),(.602,6.92),(.7,6.82),(.682,6.71),(.712,6.67),(.515,6.77),(.6,6.67),(.714,6.45),(.514,6.43),(.576,6.45),(.606,6.45),(.574,6.28),(.732,6.24),(.384,6.28),(.584,6.06),(.588,5.98),(.486,6),(.65,5.85),(.68,5.81),(.506,5.72),(.536,5.72),(.544,5.74),(.566,5.63),(.616,5.61),(.787,5.61),(.48,5.48),(.458,5.44),(.51,5.63),(.526,5.59),(.598,5.46),(.668,5.4),(.486,5.31),(.586,5.25),(.401,5.2),(.741,5.1),(.481,4.95),(.556,4.99),(.614,4.9),(.598,4.77),(.598,4.69),(.502,4.6),(.507,4.43),(.298,4.58),(.306,4.86),(.302,4.3),(.334,4.45),(.42,4.13),(.408,3.87),(.384,3.59),(.454,3.66),(.653,3.61),(.471,3.2),(.506,2.75),(.707,2.88),(.426,2.26),(.478,2.34),(.625,2.37),(.738,2.28),(.8,2.32),(.606,1.94),(.722,1.98)]
D_TIGIT = [(.518,9.55),(.51,9.16),(.514,8.71),(.528,8.6),(.459,8.77),(.502,8.06),(.51,7.78),(.518,7.78),(.503,7.31),(.518,7.35),(.514,6.92),(.486,6.69),(.514,6.45),(.482,6.32),(.307,6.34),(.454,5.96),(.459,5.98),(.3,5.85),(.4,5.85),(.482,5.96),(.384,5.55),(.384,5.38),(.334,5.16),(.408,5.01),(.503,5.46),(.507,5.27),(.519,4.92),(.506,4.77),(.507,4.17),(.486,3.87),(.471,3.31),(.478,2.95),(.421,3.2),(.426,2.43),(.634,9.35),(.634,9.03),(.61,9.29),(.576,8.82),(.536,9.29),(.598,8.65),(.541,8.65),(.546,8.26),(.55,8.11),(.7,8.43),(.6,8),(.604,7.96),(.713,8),(.669,7.7),(.68,7.46),(.576,7.53),(.586,7.46),(.786,7.29),(.607,7.35),(.607,7.2),(.64,7.23),(.574,7.25),(.732,7.14),(.552,7.08),(.534,7.18),(.582,7.08),(.568,6.92),(.586,6.77),(.598,6.56),(.65,6.43),(.616,6.24),(.74,6.17),(.713,6.13),(.566,5.96),(.534,5.85),(.612,5.85),(.682,5.78),(.598,5.48),(.8,5.89),(.598,5.23),(.588,5.05),(.654,4.56),(.606,4.49),(.556,4.26),(.707,4.22),(.738,4),(.722,3.46),(.624,2.99),(.542,2.95),(.534,3.27)]
D_PDL2 = [(.635,9.81),(.502,9.12),(.68,8.67),(.605,8.71),(.541,8.47),(.549,8.26),(.42,8.02),(.459,7.94),(.509,7.96),(.519,7.96),(.543,8.11),(.585,8.06),(.611,8.04),(.607,7.96),(.636,8.04),(.641,8.06),(.306,7.78),(.385,7.57),(.603,7.68),(.7,7.35),(.575,7.4),(.583,7.35),(.596,7.4),(.298,7.27),(.502,7.25),(.507,7.18),(.515,7.23),(.522,7.25),(.616,7.25),(.649,7.08),(.712,7.01),(.482,7.03),(.459,6.97),(.549,6.92),(.553,6.86),(.567,7.01),(.506,6.82),(.518,6.88),(.531,6.82),(.599,6.82),(.457,6.67),(.482,6.6),(.507,6.65),(.515,6.65),(.73,6.62),(.599,6.58),(.605,6.49),(.4,6.49),(.531,6.39),(.563,6.28),(.595,6.28),(.706,6.24),(.304,6.06),(.408,6.11),(.585,6.06),(.653,6.06),(.683,5.96),(.722,6.11),(.455,5.87),(.514,5.81),(.557,5.81),(.624,5.72),(.74,5.76),(.385,5.55),(.596,5.59),(.737,5.57),(.786,5.53),(.798,5.59),(.507,5.38),(.571,5.46),(.541,5.27),(.333,5.25),(.613,5.05),(.668,5.1),(.486,5.03),(.471,4.77),(.428,4.34),(.486,3.91),(.535,4.11),(.712,4.11)]

RIGHT_DENS = [RIGHT_LAG3, RIGHT_PD1, RIGHT_PDL1, RIGHT_CTLA4, RIGHT_TIGIT, RIGHT_PDL2]

SERIF = "Liberation Serif"
YMAX = 11.72

def xp(p):
    return p / W

def yp(p):
    return 1 - p / H

fig = go.Figure()
layout = {}
notes = []

def note(x, y, text, size, family=SERIF, xanchor="center", textangle=0):
    notes.append(dict(x=xp(x), y=yp(y), xref="paper", yref="paper", text=text, showarrow=False, xanchor=xanchor, yanchor="middle",
                      textangle=textangle, font=dict(family=family, size=size, color="#111")))

# panel A heatmap
hm_left, hm_right, hm_top, hm_bottom = 174, 345, 33.5, 1789.5
rows = list(range(len(GENES)))
z = [[TERT_R[i], CG26_R[i], CG07_R[i]] for i in rows]
fig.add_trace(go.Heatmap(z=z, x=[0, 1, 2], y=rows, colorscale=COLORSCALE, zmin=-.4, zmax=.4, hoverinfo="skip",
    colorbar=dict(orientation="h", lenmode="pixels", len=227, thicknessmode="pixels", thickness=16,
                  x=xp(118), xanchor="left", y=yp(1937.5), yanchor="top", outlinewidth=0, ticks="", xpad=0, ypad=0,
                  tickmode="array", tickvals=[-.4, -.2, 0, .2, .4], ticktext=["−0.4", "−0.2", "0", "0.2", "0.4"],
                  tickangle=90, tickfont=dict(family=SERIF, size=20, color="#111"))))
grid_x, grid_y = [], []
for c in [-.5, .5, 1.5, 2.5]:
    grid_x += [c, c, None]
    grid_y += [-.5, len(GENES) - .5, None]
for r in range(len(GENES) + 1):
    grid_x += [-.5, 2.5, None]
    grid_y += [r - .5, r - .5, None]
fig.add_trace(go.Scatter(x=grid_x, y=grid_y, mode="lines", line=dict(color="#A8A8A8", width=1), hoverinfo="skip", showlegend=False))
star_x = [c + .05 for g, c in ONE_STAR] + [c + .05 for g, c in TWO_STARS] + [c + .05 for g, c in TWO_STARS]
star_y = [GENES.index(g) + .27 for g, c in ONE_STAR] + [GENES.index(g) + .14 for g, c in TWO_STARS] + [GENES.index(g) + .52 for g, c in TWO_STARS]
fig.add_trace(go.Scatter(x=star_x, y=star_y, mode="text", text=["*"] * len(star_x), textposition="middle center",
    textfont=dict(family="Liberation Sans", size=19, color="rgba(255,255,255,.85)"), hoverinfo="skip", showlegend=False))
layout["xaxis"] = dict(domain=[xp(hm_left), xp(hm_right)], range=[-.5, 2.5], tickmode="array", tickvals=[0, 1, 2], ticktext=COLUMNS,
    tickangle=90, ticks="outside", tickcolor="rgba(0,0,0,0)", ticklen=2, tickfont=dict(family=SERIF, size=27, color="#111"),
    showgrid=False, zeroline=False, anchor="y")
layout["yaxis"] = dict(domain=[yp(hm_bottom), yp(hm_top)], range=[len(GENES) - .5, -.5], tickmode="array", tickvals=rows, ticktext=GENES,
    ticks="outside", tickcolor="rgba(0,0,0,0)", ticklen=7, ticklabelshift=3, tickfont=dict(family=SERIF, size=21, color="#111"),
    showgrid=False, zeroline=False, anchor="x")

# panels B, C, D
BLOCKS = [
    dict(name="TERT", points=[B_LAG3, B_PD1, B_PDL1, B_CTLA4, B_TIGIT, B_PDL2], fit=B_FIT, hi=B_HI, lo=B_LO, stats=B_STATS, top=TOP_TERT,
         xr=(0, 8.79), ticks=[0, 2, 4, 6, 8], marks=[0, 2, 4, 6, 8, 8.79], shift=[0, 0, 0], size=28, standoff=-4,
         edges=[(454, 663), (754.3, 962.7), (1045.7, 1254), (454, 663), (754.3, 962.7), (1053.7, 1262.7)],
         rows=[(30.5, 264), (357, 590.5)], titley=[303, 632], labely=[142, 142, 143, 472, 472, 471],
         text=[(459, 218, 242), (757, 227, 250), (1049, 226, 249), (461, 554, 577), (761, 554, 577), (1060, 554, 577)]),
    dict(name="cg07380026", points=[C_LAG3, C_PD1, C_PDL1, C_CTLA4, C_TIGIT, C_PDL2], fit=C_FIT, hi=C_HI, lo=C_LO, stats=C_STATS, top=TOP_CG07,
         xr=(.3, .8), ticks=[.3, .4, .5, .6, .7, .8], marks=[.3 + k * .5 / 6 for k in range(7)], shift=[0, 0, 0], size=21, standoff=-6,
         edges=[(451.7, 660), (756.7, 965.7), (1056.7, 1265.7)] * 2,
         rows=[(715, 948.4), (1041.6, 1274.5)], titley=[989.6, 1318], labely=[819.6, 818, 818, 1145, 1143, 1143],
         text=[(455, 919, 940), (761, 919, 940), (1062, 919, 940), (453, 1242, 1262), (761, 1242, 1262), (1062, 1242, 1262)]),
    dict(name="cg26006951", points=[D_LAG3, D_PD1, D_PDL1, D_CTLA4, D_TIGIT, D_PDL2], fit=D_FIT, hi=D_HI, lo=D_LO, stats=D_STATS, top=TOP_CG26,
         xr=(.3, .8), ticks=[.3, .4, .5, .6, .7, .8], marks=[.3 + k * .5 / 6 for k in range(7)], shift=[8, 11, 10], size=21, standoff=-4,
         edges=[(451.7, 660), (754.3, 962.7), (1056.7, 1265.7)] * 2,
         rows=[(1405.8, 1639.7), (1727, 1960)], titley=[1679.6, 1998.6], labely=[1514, 1514, 1514, 1832, 1831, 1831],
         text=[(458, 1606, 1626), (762, 1606, 1626), (1066, 1606, 1626), (453, 1925.6, 1946), (758, 1925.6, 1946), (1060, 1925.6, 1946)]),
]
LABEL_X = [409, 713, 1013]

n = 1
for block in BLOCKS:
    for i, gene in enumerate(PANEL_GENES):
        left, right = block["edges"][i]
        top, bottom = block["rows"][i // 3]
        x0, x1 = block["xr"]
        # axis ids: main, top density, right density
        a, b, c = n + 1, n + 2, n + 3
        n += 3
        layout[f"xaxis{a}"] = dict(domain=[xp(left), xp(right)], range=[x0, x1], anchor=f"y{a}", tickmode="array", tickvals=block["ticks"],
            ticktext=[str(t) for t in block["ticks"]], ticks="", ticklabelshift=block["shift"][i % 3], ticklabelstandoff=block["standoff"],
            tickfont=dict(family=SERIF, size=25, color="#111"), showline=True, mirror=True, linecolor="#555", linewidth=1.5,
            showgrid=False, zeroline=False,
            minor=dict(tickmode="array", tickvals=block["marks"], ticks="outside", ticklen=4, tickcolor="#555", tickwidth=1, showgrid=False))
        layout[f"yaxis{a}"] = dict(domain=[yp(bottom), yp(top)], range=[0, YMAX], anchor=f"x{a}", tickmode="array", tickvals=[0, 2, 4, 6, 8, 10],
            ticks="outside", ticklen=4, tickcolor="#555", tickfont=dict(family=SERIF, size=26, color="#111"),
            showline=True, mirror=True, linecolor="#555", linewidth=1.5, showgrid=False, zeroline=False,
            minor=dict(tickmode="array", tickvals=[YMAX], ticks="outside", ticklen=4, tickcolor="#555", showgrid=False))
        layout[f"xaxis{b}"] = dict(domain=[xp(left), xp(right)], range=[x0, x1], anchor=f"y{b}", visible=False)
        layout[f"yaxis{b}"] = dict(domain=[yp(top - 1), yp(top - 30)], range=[0, 1.02], anchor=f"x{b}", visible=False)
        layout[f"xaxis{c}"] = dict(domain=[xp(right + 1), min(xp(right + 31), 1)], range=[0, 1.02], anchor=f"y{c}", visible=False)
        layout[f"yaxis{c}"] = dict(domain=[yp(bottom), yp(top)], range=[0, YMAX], anchor=f"x{c}", visible=False)

        lo, hi, fit = block["lo"][i], block["hi"][i], block["fit"][i]
        fig.add_trace(go.Scatter(x=[x0, x1, x1, x0, x0], y=[lo[0], lo[1], hi[1], hi[0], lo[0]], fill="toself", fillcolor="#E6E4E4", mode="none",
                                 xaxis=f"x{a}", yaxis=f"y{a}", hoverinfo="skip", showlegend=False))
        fig.add_trace(go.Scatter(x=[x0, x1], y=list(fit), mode="lines", line=dict(color="#333", width=1.2),
                                 xaxis=f"x{a}", yaxis=f"y{a}", hoverinfo="skip", showlegend=False))
        pts = block["points"][i]
        fig.add_trace(go.Scatter(x=[p[0] for p in pts], y=[p[1] for p in pts], mode="markers", cliponaxis=False,
                                 marker=dict(size=4.5, color="#6864A0"), xaxis=f"x{a}", yaxis=f"y{a}", showlegend=False))
        fig.add_trace(go.Scatter(x=[p[0] for p in block["top"]], y=[p[1] for p in block["top"]], mode="lines", fill="tozeroy", fillcolor=FILLS[i],
                                 line=dict(color=LINES[i], width=1, shape="spline"), xaxis=f"x{b}", yaxis=f"y{b}", hoverinfo="skip", showlegend=False))
        dens = RIGHT_DENS[i]
        fig.add_trace(go.Scatter(x=[p[1] for p in dens], y=[p[0] for p in dens], mode="lines", fill="tozerox", fillcolor=FILLS[i],
                                 line=dict(color=LINES[i], width=1, shape="spline"), xaxis=f"x{c}", yaxis=f"y{c}", hoverinfo="skip", showlegend=False))

        note((left + right) / 2 + 4, block["titley"][i // 3], block["name"], 27)
        note(LABEL_X[i % 3], block["labely"][i], gene, 27, textangle=-90)
        tx, ty1, ty2 = block["text"][i]
        note(tx, ty1, block["stats"][i][0], block["size"], xanchor="left")
        note(tx, ty2, block["stats"][i][1], block["size"], xanchor="left")

for letter, x, y in [("A", 11, 17), ("B", 418, 17), ("C", 417, 667), ("D", 418, 1356)]:
    note(x, y, f"<b>{letter}</b>", 24, family="Liberation Sans")

layout.update(width=W, height=H, margin=dict(l=0, r=0, t=0, b=0, autoexpand=False), paper_bgcolor="white", plot_bgcolor="rgba(0,0,0,0)",
              showlegend=False, annotations=notes)
fig.update_layout(**layout)
fig.write_html("out.html", config=dict(displayModeBar=False),
               post_script="document.body.style.margin='0';document.body.style.overflow='hidden';")
